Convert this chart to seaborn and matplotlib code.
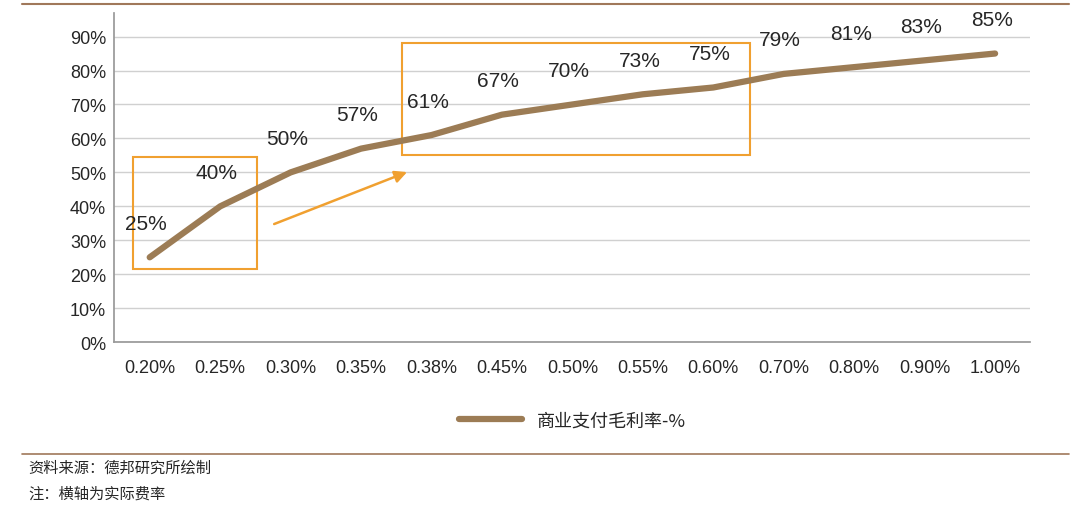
import pandas as pd
import seaborn as sns
import matplotlib.pyplot as plt
from matplotlib.patches import Rectangle

# data
rates = ["0.20%", "0.25%", "0.30%", "0.35%", "0.38%", "0.45%", "0.50%",
         "0.55%", "0.60%", "0.70%", "0.80%", "0.90%", "1.00%"]
margin = [25, 40, 50, 57, 61, 67, 70, 73, 75, 79, 81, 83, 85]
series_name = "商业支付毛利率-%"

df = pd.DataFrame({"rate": rates, "margin": margin})

sns.set_theme(style="white")
plt.rcParams['font.family'] = ['Liberation Sans', 'Noto Sans CJK SC', 'DejaVu Sans']

fig = plt.figure(figsize=(10.8, 5.1), dpi=100)
ax = fig.add_axes([0.106, 0.327, 0.848, 0.646])

brown = "#9C7C55"
orange = "#F0A030"
sns.lineplot(data=df, x="rate", y="margin", sort=False, color=brown,
             linewidth=4.5, ax=ax, label=series_name)

ax.set_xlim(-0.5, len(rates) - 0.5)
ax.set_ylim(0, 97)
ax.set_yticks(range(0, 91, 10))
ax.set_yticklabels([f"{v}%" for v in range(0, 91, 10)], fontsize=13)
ax.set_xticks(range(len(rates)))
ax.set_xticklabels(rates, fontsize=13)
ax.set_xticks([i - 0.5 for i in range(len(rates) + 1)], minor=True)
ax.tick_params(axis="x", which="major", length=0, pad=12)
ax.tick_params(axis="x", which="minor", length=5, color="#999999", direction="out")
ax.tick_params(axis="y", length=0, pad=6)
ax.yaxis.grid(True, color="#D0D0D0", linewidth=1)
ax.set_xlabel("")
ax.set_ylabel("")
for s in ["top", "right"]:
    ax.spines[s].set_visible(False)
ax.spines["left"].set_color("#999999")
ax.spines["bottom"].set_color("#999999")

for i, v in enumerate(margin):
    ax.text(i - 0.05, v + 10, f"{v}%", ha="center", va="center", fontsize=15)

# highlight boxes and arrow
ax.add_patch(Rectangle((-0.24, 21.5), 1.76, 33.1, fill=False, edgecolor=orange, linewidth=1.5))
ax.add_patch(Rectangle((3.58, 55.2), 4.94, 33.0, fill=False, edgecolor=orange, linewidth=1.5))
ax.annotate("", xy=(3.69, 50.4), xytext=(1.73, 34.5),
            arrowprops=dict(arrowstyle="-|>", color=orange, lw=1.8, mutation_scale=18))

ax.legend(loc="upper center", bbox_to_anchor=(0.5, -0.16), frameon=False,
          fontsize=13, handlelength=3.5, prop={'family': ['Noto Sans CJK SC'], 'size': 13})

# frame lines and source notes
fig.add_artist(plt.Line2D([0.02, 0.99], [0.99, 0.99], color="#A0785A", linewidth=1.5))
fig.add_artist(plt.Line2D([0.02, 0.99], [0.108, 0.108], color="#A0785A", linewidth=1.2))
fig.text(0.026, 0.082, "资料来源：德邦研究所绘制", fontsize=11, family=['Noto Sans CJK SC'], va="center")
fig.text(0.026, 0.031, "注：横轴为实际费率", fontsize=11, family=['Noto Sans CJK SC'], va="center")

fig.savefig("out.png", dpi=100)
